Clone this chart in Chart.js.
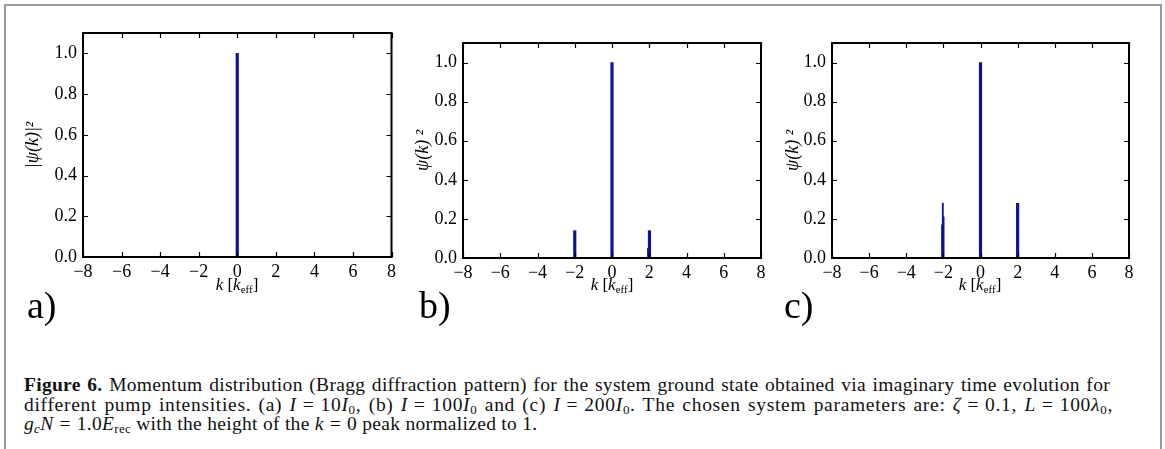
<!DOCTYPE html>
<html lang="en">
<head>
    <meta charset="UTF-8">
    <title>Figure 6 - Bragg diffraction pattern</title>
    <script src="https://cdn.jsdelivr.net/npm/chart.js@4.4.0/dist/chart.umd.min.js"></script>
    <style>
        body {
            margin: 0;
            padding: 0;
            background-color: #fff;
            width: 1165px;
            height: 449px;
            overflow: hidden;
            position: relative;
            font-family: "Liberation Serif", "DejaVu Serif", serif;
        }

        .frame {
            position: absolute;
            left: 4px;
            top: 4px;
            width: 1154px;
            height: 470px;
            border: 2px solid #9a9a9a;
            border-bottom: none;
        }

        canvas {
            position: absolute;
            top: 0;
        }

        .xtitle {
            position: absolute;
            top: 276px;
            font-size: 17px;
            line-height: 17px;
            transform: translateX(-50%);
            white-space: nowrap;
        }

        .xtitle sub {
            font-size: 11px;
            vertical-align: -3px;
        }

        .panel-label {
            position: absolute;
            top: 286px;
            font-size: 38px;
            line-height: 38px;
        }

        .caption {
            position: absolute;
            left: 24px;
            top: 375px;
            font-size: 19.5px;
            line-height: 19.5px;
            letter-spacing: 0.3px;
            color: #111;
            white-space: nowrap;
        }

        .caption .line {
            display: block;
        }

        .caption .just {
            white-space: normal;
            text-align: justify;
            text-align-last: justify;
        }

        .caption .wide {
            letter-spacing: 0.7px;
        }

        .caption sub {
            font-size: 13px;
            line-height: 0;
            vertical-align: -3px;
        }

        .eq {
            padding: 0 6px;
        }
    </style>
</head>

<body>
    <div class="frame"></div>

    <canvas id="chartA" width="400" height="285" style="left:0px"></canvas>
    <canvas id="chartB" width="370" height="285" style="left:400px"></canvas>
    <canvas id="chartC" width="395" height="285" style="left:770px"></canvas>

    <div class="xtitle" style="left:237px"><i>k</i> [<i>k</i><sub>eff</sub>]</div>
    <div class="xtitle" style="left:612px"><i>k</i> [<i>k</i><sub>eff</sub>]</div>
    <div class="xtitle" style="left:980px"><i>k</i> [<i>k</i><sub>eff</sub>]</div>

    <div class="panel-label" style="left:27px">a)</div>
    <div class="panel-label" style="left:419px">b)</div>
    <div class="panel-label" style="left:784px">c)</div>

    <div class="caption">
        <span class="line just" style="width:1086px"><b>Figure 6.</b> Momentum distribution (Bragg diffraction pattern) for the system ground state obtained via imaginary time evolution for</span>
        <span class="line just wide" style="width:1089px">different pump intensities. (a) <i>I</i><span class="eq">=</span>10<i>I</i><sub>0</sub>, (b) <i>I</i><span class="eq">=</span>100<i>I</i><sub>0</sub> and (c) <i>I</i><span class="eq">=</span>200<i>I</i><sub>0</sub>. The chosen system parameters are: <i>ζ</i><span class="eq">=</span>0.1, <i>L</i><span class="eq">=</span>100<i>λ</i><sub>0</sub>,</span>
        <span class="line"><i>g</i><sub><i>c</i></sub><i>N</i><span class="eq">=</span>1.0<i>E</i><sub>rec</sub> with the height of the <i>k</i><span class="eq">=</span>0 peak normalized to 1.</span>
    </div>

    <script>
        // axis ticks shared by all three panels
        const xTicks = [-8, -6, -4, -2, 0, 2, 4, 6, 8];
        const yTicks = [0.0, 0.2, 0.4, 0.6, 0.8, 1.0];

        // (a) I = 10 I0
        const kA = [0];
        const psiA = [1.0];

        // (b) I = 100 I0
        const kB = [-2, 0, 1.97, 2.01];
        const psiB = [0.14, 1.0, 0.05, 0.14];

        // (c) I = 200 I0 -- the -2 peak is split into three thin lines
        const kCsplit = [-2.07, -2.03, -1.99];
        const psiCsplit = [0.17, 0.28, 0.21];
        const kC = [0, 2];
        const psiC = [1.0, 0.28];

        const lineColor = '#10109c';
        const tickFont = { family: "'Liberation Serif', serif", size: 18 };

        function toPoints(ks, vals) {
            return ks.map((k, i) => ({ x: k, y: vals[i] }));
        }

        function minusSign(v) {
            return v < 0 ? '\u2212' + Math.abs(v) : String(v);
        }

        // matplotlib style frame with inward tick marks
        const frameTicks = {
            id: 'frameTicks',
            afterDraw(chart) {
                const { ctx, chartArea: a, scales: { x, y } } = chart;
                ctx.save();
                ctx.strokeStyle = '#000';
                ctx.lineWidth = 1.2;
                ctx.beginPath();
                xTicks.forEach(v => {
                    const px = Math.round(x.getPixelForValue(v)) + 0.5;
                    ctx.moveTo(px, a.bottom);
                    ctx.lineTo(px, a.bottom - 5);
                    ctx.moveTo(px, a.top);
                    ctx.lineTo(px, a.top + 5);
                });
                yTicks.forEach(v => {
                    const py = Math.round(y.getPixelForValue(v)) + 0.5;
                    ctx.moveTo(a.left, py);
                    ctx.lineTo(a.left + 5, py);
                    ctx.moveTo(a.right, py);
                    ctx.lineTo(a.right - 5, py);
                });
                ctx.stroke();
                ctx.lineWidth = 2;
                ctx.strokeRect(a.left, a.top, a.right - a.left, a.bottom - a.top);
                ctx.restore();
            }
        };

        function makePanel(id, datasets, yTitle, box) {
            const ctx = document.getElementById(id).getContext('2d');
            return new Chart(ctx, {
                type: 'bar',
                data: { datasets: datasets },
                options: {
                    responsive: false,
                    animation: false,
                    devicePixelRatio: 1,
                    layout: { padding: { top: box.top, right: box.right, left: 0, bottom: 0 } },
                    plugins: { legend: { display: false }, tooltip: { enabled: false } },
                    scales: {
                        x: {
                            type: 'linear',
                            offset: false,
                            min: -8,
                            max: 8,
                            grid: { display: false, drawTicks: false },
                            border: { display: false },
                            afterBuildTicks: s => { s.ticks = xTicks.map(v => ({ value: v })); },
                            afterFit: s => { s.height = box.xHeight; },
                            ticks: {
                                autoSkip: false,
                                maxRotation: 0,
                                padding: 4,
                                color: '#000',
                                font: tickFont,
                                callback: v => minusSign(v)
                            }
                        },
                        y: {
                            min: 0,
                            max: 1.1,
                            grid: { display: false, drawTicks: false },
                            border: { display: false },
                            afterBuildTicks: s => { s.ticks = yTicks.map(v => ({ value: v })); },
                            afterFit: s => { s.width = box.yWidth; },
                            ticks: {
                                padding: 6,
                                color: '#000',
                                font: tickFont,
                                callback: v => v.toFixed(1)
                            },
                            title: {
                                display: true,
                                text: yTitle,
                                color: '#000',
                                padding: { top: box.titlePad, bottom: 0 },
                                font: { family: "'Liberation Serif', serif", size: 18, style: 'italic' }
                            }
                        }
                    }
                },
                plugins: [frameTicks]
            });
        }

        function spikes(ks, vals, thickness) {
            return {
                data: toPoints(ks, vals),
                backgroundColor: lineColor,
                borderWidth: 0,
                barThickness: thickness,
                grouped: false
            };
        }

        makePanel('chartA', [spikes(kA, psiA, 2.5)], '|\u03c8(k)|\u00b2',
            { top: 33, right: 8, yWidth: 83, xHeight: 28, titlePad: 22 });

        makePanel('chartB', [spikes(kB, psiB, 2.5)], '\u03c8(k) \u00b2',
            { top: 43, right: 9, yWidth: 63, xHeight: 27, titlePad: 12 });

        makePanel('chartC', [spikes(kCsplit, psiCsplit, 1.2), spikes(kC, psiC, 2.5)], '\u03c8(k) \u00b2',
            { top: 43, right: 36, yWidth: 62, xHeight: 27, titlePad: 12 });
    </script>
</body>

</html>
